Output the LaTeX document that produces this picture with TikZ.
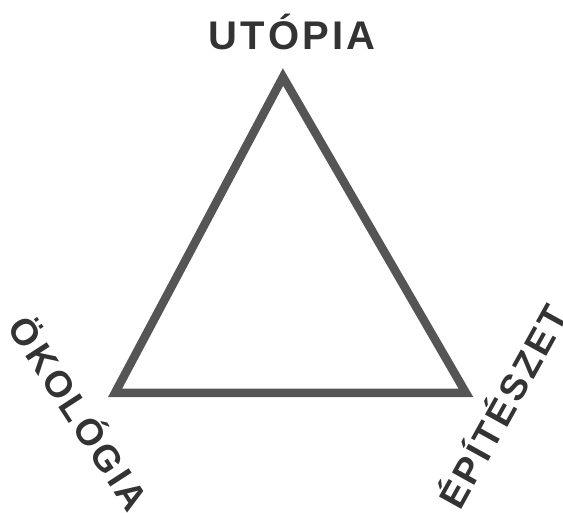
\documentclass[tikz,border=0pt]{standalone}
\usepackage{fontspec}
\setmainfont{Liberation Sans}[LetterSpace=8]
\definecolor{tri}{HTML}{555555}
\definecolor{lbl}{HTML}{333333}
\begin{document}
\begin{tikzpicture}[x=1pt,y=-1pt,
  lab/.style={text=lbl,font=\bfseries\fontsize{40}{40}\selectfont,inner sep=0pt,anchor=center},
  side/.style={lab,font=\bfseries\fontsize{37}{37}\selectfont}]
\useasboundingbox (0,0) rectangle (563,513);
\coordinate (t) at (283,77);
\coordinate (l) at (115,393);
\coordinate (r) at (466,393);
\draw[tri,line width=8.5pt,line join=miter] (t) -- (l) -- (r) -- cycle;
\node[lab] (u) at (292,32) {UTÓPIA};
\node[side,rotate=-57] (o) at (81,412) {ÖKOLÓGIA};
\node[side,rotate=61] (e) at (501,405) {ÉPÍTÉSZET};
\end{tikzpicture}
\end{document}
